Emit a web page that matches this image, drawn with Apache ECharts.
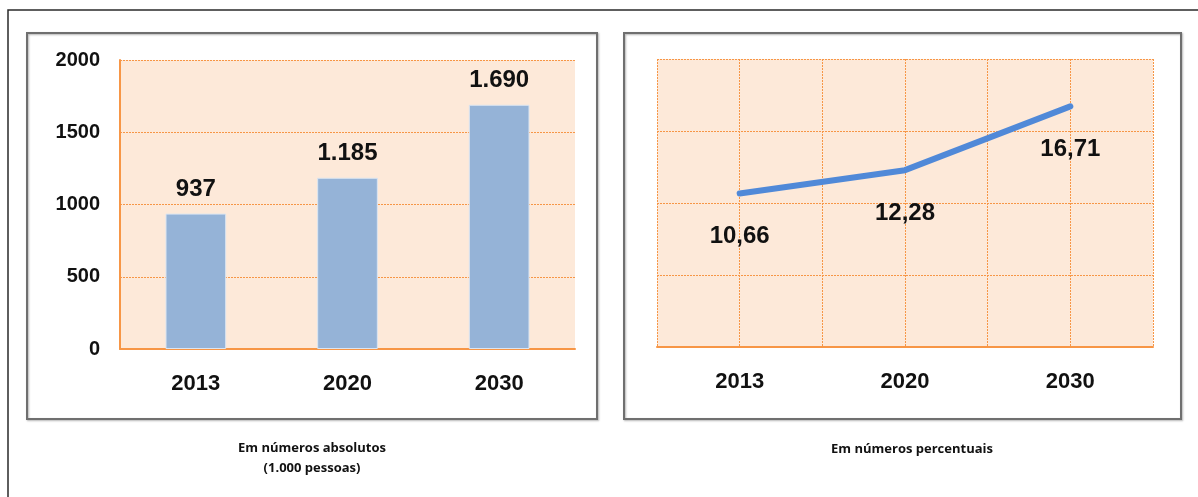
<!DOCTYPE html>
<html>
<head>
<meta charset="utf-8">
<script src="https://cdn.jsdelivr.net/npm/echarts@6/dist/echarts.min.js"></script>
<style>
html,body{margin:0;padding:0;background:#fff;}
#chart{width:1198px;height:497px;}
</style>
</head>
<body>
<div id="chart"></div>
<script>
// dados
var anos = ['2013', '2020', '2030'];
var absolutos = [937, 1185, 1690];      // mil pessoas
var percentuais = [10.66, 12.28, 16.71]; // %
var eixoAbs = [0, 500, 1000, 1500, 2000];

var laranja = '#f79646';
var fundo = '#fde9d9';
var fonte = 'Liberation Sans';

function milhar(v){ // 1185 -> 1.185
    var s = String(v);
    return s.length > 3 ? s.slice(0, s.length - 3) + '.' + s.slice(-3) : s;
}

var myChart = echarts.init(document.getElementById('chart'));
var option = {
    animation: false,
    backgroundColor: '#fff',
    graphic: [
        // moldura externa
        {type: 'rect', shape: {x: 8, y: 10, width: 1220, height: 520}, style: {fill: null, stroke: '#2a2a2a', lineWidth: 1.5}, z: 0},
        // caixas dos paineis
        {type: 'rect', shape: {x: 27, y: 33, width: 570, height: 386}, style: {fill: null, stroke: '#6f6f6f', lineWidth: 2, shadowBlur: 2, shadowColor: 'rgba(0,0,0,0.3)', shadowOffsetX: 1, shadowOffsetY: 1}, z: 0},
        {type: 'rect', shape: {x: 624, y: 33, width: 557, height: 386}, style: {fill: null, stroke: '#6f6f6f', lineWidth: 2, shadowBlur: 2, shadowColor: 'rgba(0,0,0,0.3)', shadowOffsetX: 1, shadowOffsetY: 1}, z: 0},
        // legendas abaixo
        {type: 'text', x: 312, y: 448, style: {text: 'Em números absolutos', align: 'center', verticalAlign: 'middle', font: 'bold 13px "Open Sans"', fill: '#111'}},
        {type: 'text', x: 312, y: 468, style: {text: '(1.000 pessoas)', align: 'center', verticalAlign: 'middle', font: 'bold 13px "Open Sans"', fill: '#111'}},
        {type: 'text', x: 912, y: 449, style: {text: 'Em números percentuais', align: 'center', verticalAlign: 'middle', font: 'bold 13px "Open Sans"', fill: '#111'}}
    ],
    grid: [
        {left: 120, top: 60, width: 455, height: 289, show: true, backgroundColor: fundo, borderWidth: 0},
        {left: 657, top: 59, width: 496, height: 288, show: true, backgroundColor: fundo, borderWidth: 0}
    ],
    xAxis: [
        {
            gridIndex: 0, type: 'category', data: anos,
            axisLine: {lineStyle: {color: laranja, width: 2}},
            axisTick: {show: false},
            axisLabel: {fontFamily: fonte, fontWeight: 'bold', fontSize: 22, color: '#111', margin: 24}
        },
        {
            gridIndex: 1, type: 'value', min: -0.5, max: 2.5, interval: 0.5,
            axisLine: {onZero: false, lineStyle: {color: laranja, width: 2}},
            axisTick: {show: false},
            splitLine: {show: true, lineStyle: {color: laranja, type: [2, 1], width: 1}},
            axisLabel: {
                fontFamily: fonte, fontWeight: 'bold', fontSize: 22, color: '#111', margin: 24,
                formatter: function(v){ return Math.round(v) === v ? anos[v] : ''; }
            }
        }
    ],
    yAxis: [
        {
            gridIndex: 0, type: 'value', min: eixoAbs[0], max: eixoAbs[eixoAbs.length - 1], interval: 500,
            axisLine: {show: true, lineStyle: {color: laranja, width: 2}},
            axisTick: {show: false},
            splitLine: {lineStyle: {color: laranja, type: [2, 1], width: 1}},
            axisLabel: {fontFamily: fonte, fontWeight: 'bold', fontSize: 20, color: '#111', margin: 20,
                formatter: function(v){ return String(v); }}
        },
        {
            gridIndex: 1, type: 'value', min: 0, max: 20, interval: 5,
            axisLine: {show: false},
            axisTick: {show: false},
            splitLine: {lineStyle: {color: laranja, type: [2, 1], width: 1}},
            axisLabel: {show: false}
        }
    ],
    series: [
        {
            type: 'bar', xAxisIndex: 0, yAxisIndex: 0,
            data: absolutos, barWidth: '40%',
            itemStyle: {color: '#95b3d7', borderColor: '#dbe5f1', borderWidth: 1},
            label: {
                show: true, position: 'top', distance: 12,
                fontFamily: fonte, fontWeight: 'bold', fontSize: 24, color: '#111',
                formatter: function(p){ return milhar(p.value); }
            }
        },
        {
            type: 'line', xAxisIndex: 1, yAxisIndex: 1,
            data: percentuais.map(function(v, i){ return [i, v]; }),
            showSymbol: true, symbol: 'circle', symbolSize: 2,
            itemStyle: {color: '#5089d8'},
            lineStyle: {color: '#5089d8', width: 6, cap: 'round', join: 'round'},
            label: {
                show: true, position: 'bottom', distance: 30,
                fontFamily: fonte, fontWeight: 'bold', fontSize: 24, color: '#111',
                formatter: function(p){ return p.value[1].toFixed(2).replace('.', ','); }
            }
        }
    ]
};
myChart.setOption(option);
</script>
</body>
</html>
